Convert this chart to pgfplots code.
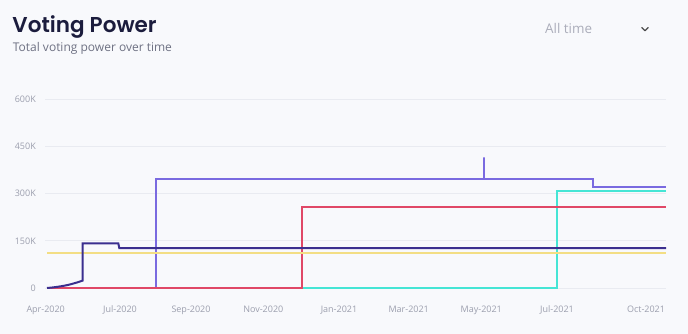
\documentclass[border=0pt]{standalone}
\usepackage{pgfplots}
\pgfplotsset{compat=1.18}
\usepackage{fontspec}
\setmainfont{Open Sans}
\newfontfamily\titlefont{Poppins SemiBold}
\definecolor{bg}{HTML}{F8F9FC}
\definecolor{titlec}{HTML}{1B1C3D}
\definecolor{subc}{HTML}{6E7183}
\definecolor{tickc}{HTML}{9C9FAE}
\definecolor{gridc}{HTML}{E9EBF1}
\definecolor{navy}{HTML}{3B2F8F}
\definecolor{purp}{HTML}{7A6AE0}
\definecolor{redc}{HTML}{E04867}
\definecolor{cyanc}{HTML}{45E5D5}
\definecolor{yell}{HTML}{F3DE84}
\begin{document}
\begin{tikzpicture}[x=1pt,y=1pt]
\path[use as bounding box, fill=bg] (0,0) rectangle (688,334);
\node[anchor=base west, inner sep=0pt, text=titlec, font=\titlefont\fontsize{21.5}{26}\selectfont] at (12.3,301.7) {Voting Power};
\node[anchor=base west, inner sep=0pt, text=subc, font=\fontsize{12}{15}\selectfont] at (12.7,282.3) {Total voting power over time};
\node[anchor=base west, inner sep=0pt, text=tickc!85!white, font=\fontsize{13.4}{16}\selectfont] at (545,300) {All time};
\draw[line width=1.3pt, color=black!70, line cap=round, line join=round] (641.8,306.5) -- (645,303.3) -- (648.2,306.5);
\begin{axis}[
  at={(45pt,46pt)}, anchor=south west,
  scale only axis, width=621pt, height=188.7pt,
  xmin=45, xmax=666, ymin=0, ymax=600000,
  clip=false,
  axis line style={draw=none},
  major tick length=0pt,
  ymajorgrids, grid style={gridc, line width=0.8pt},
  ytick={0,150000,300000,450000,600000},
  yticklabels={0,150K,300K,450K,600K},
  xtick={45.7,120,191,263.3,339,408.7,481.3,557,646},
  xticklabels={Apr-2020,Jul-2020,Sep-2020,Nov-2020,Jan-2021,Mar-2021,May-2021,Jul-2021,Oct-2021},
  scaled y ticks=false,
  ticklabel style={text=tickc, font=\fontsize{9}{11}\selectfont, inner sep=0pt},
  yticklabel style={anchor=east, xshift=-9pt},
  xticklabel style={anchor=base, yshift=-24.3pt},
  every axis plot/.append style={line join=miter, line cap=butt},
]
\addplot[cyanc, line width=2pt] coordinates {(47,0) (557,0) (557,307000) (666,307000)};
\addplot[purp, line width=2pt] coordinates {(47,0) (155.7,0) (155.7,347000) (484,347000) (484,415000) (484,347000) (593,347000) (593,322000) (666,322000)};
\addplot[redc, line width=2pt] coordinates {(47,0) (302,0) (302,259000) (666,259000)};
\addplot[yell, line width=2.2pt] coordinates {(47,112000) (666,112000)};
\addplot[navy, line width=2pt] coordinates {(47,0) (52,1500) (57,3500) (62,6000) (67,9000) (72,13000) (77,17500) (82.7,23500) (82.7,142000) (118.3,142000) (119.3,127000) (666,127000)};
\end{axis}
\end{tikzpicture}
\end{document}
